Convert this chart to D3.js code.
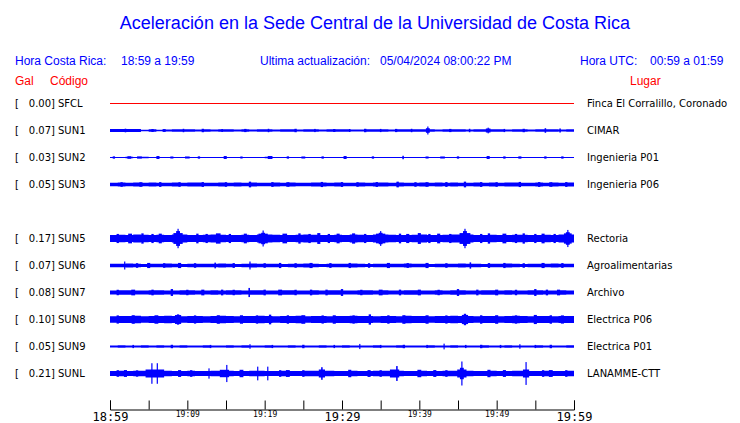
<!DOCTYPE html>
<html><head><meta charset="utf-8">
<script src="https://cdn.jsdelivr.net/npm/d3@7"></script>
<style>body{margin:0;background:#fff}svg{display:block}</style>
</head><body>
<script>
// ---- data ----
const stations = ["SFCL","SUN1","SUN2","SUN3","SUN4","SUN5","SUN6","SUN7","SUN8","SUN9","SUNL"];
const places = ["Finca El Corralillo, Coronado","CIMAR","Ingenieria P01","Ingenieria P06",null,"Rectoria","Agroalimentarias","Archivo","Electrica P06","Electrica P01","LANAMME-CTT"];
const peakGal = [0.00,0.07,0.03,0.05,null,0.17,0.07,0.08,0.10,0.05,0.21];
const tickLabels = ["18:59","19:09","19:19","19:29","19:39","19:49","19:59"];
// background envelope (Gal), one value per minute
const baseSFCL = Array(60).fill(0);
const baseSUN1 = [0.028,0.028,0.028,0.026,0.014,0.02,0.012,0.018,0.022,0.024,0.02,0.018,0.022,0.016,0.02,0.022,0.018,0.02,0.016,0.022,0.02,0.018,0.022,0.02,0.016,0.02,0.022,0.018,0.02,0.02,0.022,0.018,0.016,0.02,0.022,0.02,0.018,0.02,0.022,0.02,0.024,0.022,0.018,0.02,0.022,0.02,0.018,0.022,0.02,0.024,0.02,0.018,0.02,0.022,0.018,0.02,0.022,0.02,0.018,0.02];
const baseSUN2 = [0.01,0.006,0.012,0.008,0.012,0.006,0.008,0.006,0.01,0.006,0.006,0.008,0.006,0.006,0.01,0.006,0.008,0.006,0.006,0.008,0.012,0.006,0.006,0.008,0.006,0.006,0.01,0.006,0.006,0.008,0.006,0.006,0.008,0.006,0.006,0.01,0.006,0.008,0.006,0.006,0.008,0.006,0.006,0.01,0.006,0.006,0.008,0.006,0.01,0.006,0.006,0.008,0.006,0.006,0.01,0.006,0.008,0.006,0.006,0.008];
const baseSUN3 = [0.032,0.034,0.03,0.034,0.032,0.036,0.032,0.03,0.034,0.032,0.034,0.036,0.032,0.03,0.034,0.032,0.034,0.032,0.036,0.032,0.03,0.034,0.032,0.034,0.032,0.03,0.034,0.036,0.032,0.034,0.032,0.03,0.034,0.032,0.034,0.036,0.032,0.034,0.032,0.03,0.034,0.032,0.036,0.032,0.034,0.032,0.03,0.034,0.032,0.034,0.032,0.036,0.034,0.032,0.03,0.034,0.032,0.034,0.032,0.034];
const baseSUN4 = null;
const baseSUN5 = [0.06,0.065,0.062,0.068,0.065,0.06,0.066,0.062,0.07,0.068,0.062,0.06,0.065,0.068,0.066,0.062,0.06,0.065,0.062,0.068,0.07,0.065,0.062,0.06,0.066,0.068,0.065,0.062,0.06,0.065,0.062,0.068,0.065,0.062,0.068,0.07,0.065,0.062,0.06,0.066,0.068,0.062,0.06,0.065,0.068,0.07,0.068,0.062,0.06,0.065,0.062,0.06,0.065,0.066,0.062,0.06,0.065,0.062,0.068,0.07];
const baseSUN6 = [0.03,0.032,0.034,0.03,0.028,0.032,0.03,0.034,0.03,0.028,0.03,0.032,0.03,0.032,0.034,0.03,0.028,0.032,0.034,0.03,0.032,0.03,0.028,0.03,0.032,0.034,0.03,0.028,0.03,0.032,0.03,0.034,0.03,0.028,0.03,0.032,0.03,0.03,0.034,0.032,0.03,0.028,0.03,0.032,0.03,0.034,0.032,0.03,0.028,0.03,0.032,0.034,0.03,0.028,0.03,0.032,0.03,0.034,0.032,0.03];
const baseSUN7 = [0.036,0.04,0.038,0.034,0.036,0.04,0.038,0.036,0.034,0.038,0.04,0.036,0.034,0.038,0.036,0.04,0.038,0.036,0.04,0.038,0.034,0.036,0.038,0.04,0.036,0.034,0.038,0.036,0.04,0.038,0.036,0.034,0.038,0.04,0.036,0.038,0.034,0.036,0.04,0.038,0.036,0.034,0.038,0.036,0.04,0.038,0.036,0.034,0.038,0.04,0.036,0.038,0.034,0.036,0.04,0.038,0.036,0.034,0.038,0.036];
const baseSUN8 = [0.058,0.062,0.06,0.064,0.058,0.06,0.062,0.064,0.062,0.058,0.06,0.062,0.058,0.06,0.064,0.062,0.058,0.06,0.062,0.064,0.06,0.058,0.062,0.06,0.064,0.058,0.06,0.062,0.058,0.06,0.062,0.064,0.06,0.062,0.058,0.06,0.062,0.058,0.064,0.06,0.062,0.058,0.06,0.062,0.064,0.062,0.06,0.058,0.062,0.06,0.058,0.062,0.064,0.06,0.058,0.062,0.06,0.058,0.062,0.06];
const baseSUN9 = [0.018,0.02,0.018,0.016,0.02,0.018,0.02,0.016,0.018,0.02,0.018,0.016,0.02,0.018,0.016,0.02,0.018,0.02,0.016,0.018,0.02,0.018,0.016,0.02,0.018,0.016,0.018,0.02,0.018,0.016,0.02,0.018,0.016,0.018,0.02,0.018,0.016,0.02,0.018,0.016,0.018,0.02,0.018,0.016,0.02,0.018,0.016,0.018,0.02,0.018,0.016,0.02,0.018,0.016,0.018,0.02,0.018,0.016,0.018,0.02];
const baseSUNL = [0.042,0.046,0.044,0.048,0.05,0.052,0.05,0.046,0.044,0.042,0.046,0.044,0.042,0.048,0.05,0.046,0.044,0.042,0.046,0.048,0.044,0.042,0.046,0.044,0.042,0.046,0.048,0.05,0.046,0.044,0.042,0.046,0.044,0.042,0.048,0.046,0.05,0.048,0.044,0.042,0.046,0.044,0.042,0.046,0.048,0.05,0.046,0.044,0.042,0.046,0.044,0.042,0.046,0.048,0.044,0.042,0.046,0.044,0.042,0.046];
// events: [minute after 18:59, half-amplitude (Gal), duration (min)]
const evSFCL = [];
const evSUN1 = [[41.1,0.07,0.15],[41.1,0.04,0.5],[48.9,0.05,0.15],[48.9,0.035,0.6],[56.3,0.04,0.2],[58.2,0.035,0.2],[12,0.03,0.3],[24,0.03,0.3],[33,0.03,0.3],[7,0.025,0.4],[17.5,0.028,0.3],[29,0.026,0.3],[37,0.028,0.3],[2,0.032,0.2],[5.5,0.026,0.3],[9.5,0.03,0.2],[14.5,0.026,0.2],[20.5,0.03,0.2],[26.5,0.028,0.2],[31,0.026,0.2],[35,0.028,0.2],[39,0.03,0.2],[44,0.028,0.3],[46.5,0.03,0.2],[51,0.028,0.2],[53.5,0.03,0.3]];
const evSUN2 = [[0.5,0.02,0.3],[2.5,0.022,0.5],[3.8,0.02,0.6],[6.2,0.026,0.4],[8,0.018,0.4],[10,0.018,0.6],[11.5,0.02,0.3],[14.9,0.026,0.4],[17,0.018,0.3],[20.7,0.026,0.6],[23,0.02,0.3],[25,0.018,0.5],[27.5,0.02,0.3],[30.4,0.026,0.4],[34,0.02,0.3],[37.9,0.03,0.2],[41,0.018,0.4],[43,0.018,0.6],[45,0.02,0.3],[48.9,0.026,0.4],[51,0.02,0.3],[53,0.02,0.4],[56.3,0.02,0.3],[58.5,0.02,0.3]];
const evSUN3 = [[18.1,0.05,0.3],[27.4,0.045,0.3],[37.2,0.05,0.3],[45.9,0.05,0.3],[53,0.045,0.3],[1.5,0.04,0.3],[4,0.04,0.4],[6.5,0.042,0.3],[9,0.04,0.3],[12,0.042,0.3],[15,0.04,0.3],[21,0.042,0.3],[23,0.04,0.4],[30,0.042,0.3],[32,0.04,0.3],[34.5,0.042,0.3],[39.5,0.04,0.3],[41,0.04,0.4],[43.5,0.042,0.3],[48,0.042,0.3],[50,0.04,0.3],[55.5,0.042,0.3],[57,0.04,0.4],[59,0.042,0.3]];
const evSUN4 = null;
const evSUN5 = [[8.8,0.17,0.15],[8.8,0.13,0.5],[8.8,0.095,1.2],[19.8,0.14,0.15],[19.8,0.1,0.5],[19.8,0.085,1.2],[35,0.13,0.15],[35,0.1,0.5],[35,0.085,1.2],[45.9,0.17,0.15],[45.9,0.13,0.5],[45.9,0.095,1.4],[59.2,0.15,0.15],[59.2,0.11,0.5],[59.2,0.09,1],
  [1,0.08,0.3],[2.6,0.085,0.5],[4.2,0.09,0.3],[5.5,0.08,0.3],[6.5,0.085,0.4],[11.3,0.085,0.3],[12.5,0.08,0.3],[14,0.09,0.6],[15.5,0.08,0.3],[17.5,0.085,0.4],[22.6,0.085,0.6],[24.5,0.09,0.3],[25.8,0.08,0.3],[27,0.095,0.4],[28.3,0.08,0.3],[29.5,0.085,0.4],[31.5,0.09,0.4],[33,0.08,0.3],[37.5,0.085,0.3],[38.5,0.08,0.4],[40,0.095,0.4],[41.3,0.08,0.3],[42.5,0.085,0.4],[44,0.08,0.3],[48,0.08,0.3],[49,0.09,0.3],[51,0.085,0.5],[52.5,0.08,0.3],[53.5,0.09,0.3],[55,0.08,0.3],[56,0.085,0.4],[57.5,0.08,0.3]];
const evSUN6 = [[1.9,0.07,0.15],[18.1,0.07,0.15],[46.6,0.055,0.2],[13.6,0.05,0.2],[5,0.045,0.4],[9,0.045,0.4],[22,0.045,0.3],[26,0.045,0.4],[31,0.045,0.3],[36,0.045,0.4],[41,0.045,0.4],[51,0.045,0.3],[56,0.045,0.4],[3.5,0.04,0.3],[7,0.04,0.3],[11,0.04,0.3],[16,0.042,0.3],[20,0.04,0.3],[24,0.04,0.3],[28.5,0.042,0.3],[33.5,0.04,0.3],[38.5,0.042,0.3],[43.5,0.04,0.3],[49,0.042,0.3],[53.5,0.04,0.3],[58.5,0.042,0.3]];
const evSUN7 = [[18,0.08,0.2],[8,0.06,0.3],[30,0.06,0.3],[45,0.06,0.3],[55,0.06,0.3],[3,0.05,0.5],[12,0.05,0.4],[22,0.05,0.5],[26,0.05,0.3],[35,0.05,0.5],[40,0.05,0.4],[50,0.05,0.4],[58,0.05,0.4],[1,0.048,0.3],[5.5,0.05,0.3],[10,0.048,0.3],[14.5,0.05,0.3],[16,0.048,0.3],[20,0.05,0.3],[24,0.048,0.3],[28,0.05,0.3],[32.5,0.048,0.3],[37.5,0.05,0.3],[42.5,0.048,0.3],[47.5,0.05,0.3],[52.5,0.048,0.3],[56.5,0.05,0.3]];
const evSUN8 = [[8.8,0.09,0.3],[8.8,0.078,0.8],[20.7,0.085,0.3],[33.6,0.09,0.3],[45.9,0.1,0.3],[45.9,0.08,0.8],[55,0.08,0.4],[1,0.072,0.3],[3,0.075,0.4],[6,0.074,0.5],[11,0.072,0.3],[14,0.075,0.4],[17,0.074,0.4],[19,0.072,0.3],[23,0.074,0.3],[25,0.075,0.5],[27.5,0.072,0.3],[29,0.074,0.4],[31.5,0.072,0.3],[36,0.074,0.3],[38,0.075,0.4],[41,0.074,0.4],[43.5,0.072,0.3],[48,0.074,0.3],[50,0.075,0.4],[52.5,0.072,0.3],[57,0.074,0.3],[58.5,0.072,0.4]];
const evSUN9 = [[18.1,0.04,0.15],[32.3,0.045,0.15],[43.2,0.05,0.15],[53,0.04,0.15],[8,0.03,0.3],[25,0.03,0.3],[38,0.03,0.3],[48,0.03,0.3],[57,0.03,0.3],[3,0.028,0.2],[13,0.028,0.2],[21,0.028,0.2],[29,0.028,0.2],[35,0.028,0.2],[41,0.028,0.2],[46,0.028,0.2],[50.5,0.028,0.2],[55,0.028,0.2]];
const evSUNL = [[5.4,0.18,0.12],[6.1,0.18,0.12],[5.8,0.07,2.4],[12.8,0.09,0.15],[15.1,0.15,0.15],[14.8,0.065,1.2],[19.1,0.12,0.15],[20.4,0.12,0.15],[27.4,0.11,0.2],[27.4,0.07,0.8],[37.1,0.13,0.2],[36.8,0.07,1.2],[45.5,0.21,0.15],[45.5,0.1,0.5],[45.5,0.07,1.2],[53.8,0.2,0.15],[53.8,0.07,0.8],
  [1,0.058,0.3],[2,0.06,0.4],[3.5,0.055,0.3],[9,0.06,0.4],[10.5,0.058,0.3],[17,0.065,0.5],[22,0.058,0.3],[23,0.06,0.5],[25,0.058,0.3],[31,0.065,0.4],[33.5,0.06,0.4],[35,0.058,0.3],[40,0.065,0.5],[42,0.06,0.4],[43.5,0.058,0.3],[49,0.065,0.4],[51,0.06,0.4],[56,0.058,0.3],[57,0.06,0.5],[59,0.058,0.3]];
const bases = [baseSFCL,baseSUN1,baseSUN2,baseSUN3,baseSUN4,baseSUN5,baseSUN6,baseSUN7,baseSUN8,baseSUN9,baseSUNL];
const events = [evSFCL,evSUN1,evSUN2,evSUN3,evSUN4,evSUN5,evSUN6,evSUN7,evSUN8,evSUN9,evSUNL];

// ---- drawing ----
const W = 740, H = 423;
const svg = d3.select("body").append("svg").attr("width", W).attr("height", H);
const BLUE = "#0000ff", RED = "#ff0000";
const sans = "'Liberation Sans', Arial, sans-serif";
const dv = "'DejaVu Sans', sans-serif";

const t0 = new Date(2024,3,5,18,59), t1 = new Date(2024,3,5,19,59);
const x = d3.scaleTime().domain([t0,t1]).range([110,574]);
const tm = m => new Date(t0.getTime() + m*60000);
const y = d3.scalePoint().domain(stations).range([103,373]);
const amp = d3.scaleLinear().domain([0,0.21]).range([0,12]);

svg.append("text").attr("x",375).attr("y",29).attr("text-anchor","middle")
  .attr("font-family",sans).attr("font-size",18).attr("fill",BLUE)
  .text("Aceleración en la Sede Central de la Universidad de Costa Rica");

const hdr = [["Hora Costa Rica:",15],["18:59 a 19:59",121],["Ultima actualización:",260],["05/04/2024 08:00:22 PM",380],["Hora UTC:",580],["00:59 a 01:59",650]];
svg.selectAll("text.hdr").data(hdr).join("text").attr("class","hdr")
  .attr("x",d=>d[1]).attr("y",65).attr("font-family",sans).attr("font-size",12).attr("fill",BLUE).text(d=>d[0]);
const hdr2 = [["Gal",15],["Código",50],["Lugar",630]];
svg.selectAll("text.hdr2").data(hdr2).join("text").attr("class","hdr2")
  .attr("x",d=>d[1]).attr("y",85).attr("font-family",sans).attr("font-size",12).attr("fill",RED).text(d=>d[0]);

stations.forEach((s,i)=>{
  if (peakGal[i] === null) return;
  const cy = y(s) + 0.5;
  const g = svg.append("g");
  g.append("text").attr("x",15).attr("y",cy+3.5).attr("font-family",dv).attr("font-size",10).text("[");
  g.append("text").attr("x",55).attr("y",cy+3.5).attr("text-anchor","end").attr("font-family",dv).attr("font-size",10).text(peakGal[i].toFixed(2)+"]");
  g.append("text").attr("x",58).attr("y",cy+3.5).attr("font-family",dv).attr("font-size",10).text(s);
  g.append("text").attr("x",587).attr("y",cy+3.5).attr("font-family",dv).attr("font-size",10).text(places[i]);
  const col = i===0 ? RED : BLUE;
  g.append("line").attr("x1",x(t0)).attr("x2",x(t1)).attr("y1",cy).attr("y2",cy).attr("stroke",col).attr("stroke-width",1);
  const base = bases[i];
  const pts = base.map((v,k)=>({t:k,v}));
  pts.push({t:60,v:base[base.length-1]});
  const area = d3.area().curve(d3.curveStepAfter).x(d=>x(tm(d.t))).y0(d=>cy-amp(d.v)).y1(d=>cy+amp(d.v));
  g.append("path").attr("d",area(pts)).attr("fill",col);
  g.selectAll("rect").data(events[i]).join("rect")
    .attr("x",e=>x(tm(e[0]-e[2]/2)))
    .attr("width",e=>Math.max(1.2, x(tm(e[0]+e[2]/2)) - x(tm(e[0]-e[2]/2))))
    .attr("y",e=>cy-amp(e[1])).attr("height",e=>2*amp(e[1])).attr("fill",col);
});

// axis
const tickVals = d3.range(0,61,5).map(tm);
const ax = d3.axisBottom(x).tickValues(tickVals).tickSize(-9)
  .tickFormat((d,i)=> i%2===0 ? tickLabels[i/2] : "");
const axg = svg.append("g").attr("transform","translate(0,409.5)").call(ax);
axg.select(".domain").attr("stroke","#000");
axg.selectAll(".tick line").attr("stroke","#000");
axg.selectAll(".tick text").each(function(d,i){
  const big = (i%6===0);
  d3.select(this).attr("fill","#000").attr("font-family","'DejaVu Sans Mono', monospace")
    .attr("font-size", big?12:8).attr("font-weight","normal")
    .attr("y", big?11.5:7).attr("dy", 0);
});
</script>
</body></html>
